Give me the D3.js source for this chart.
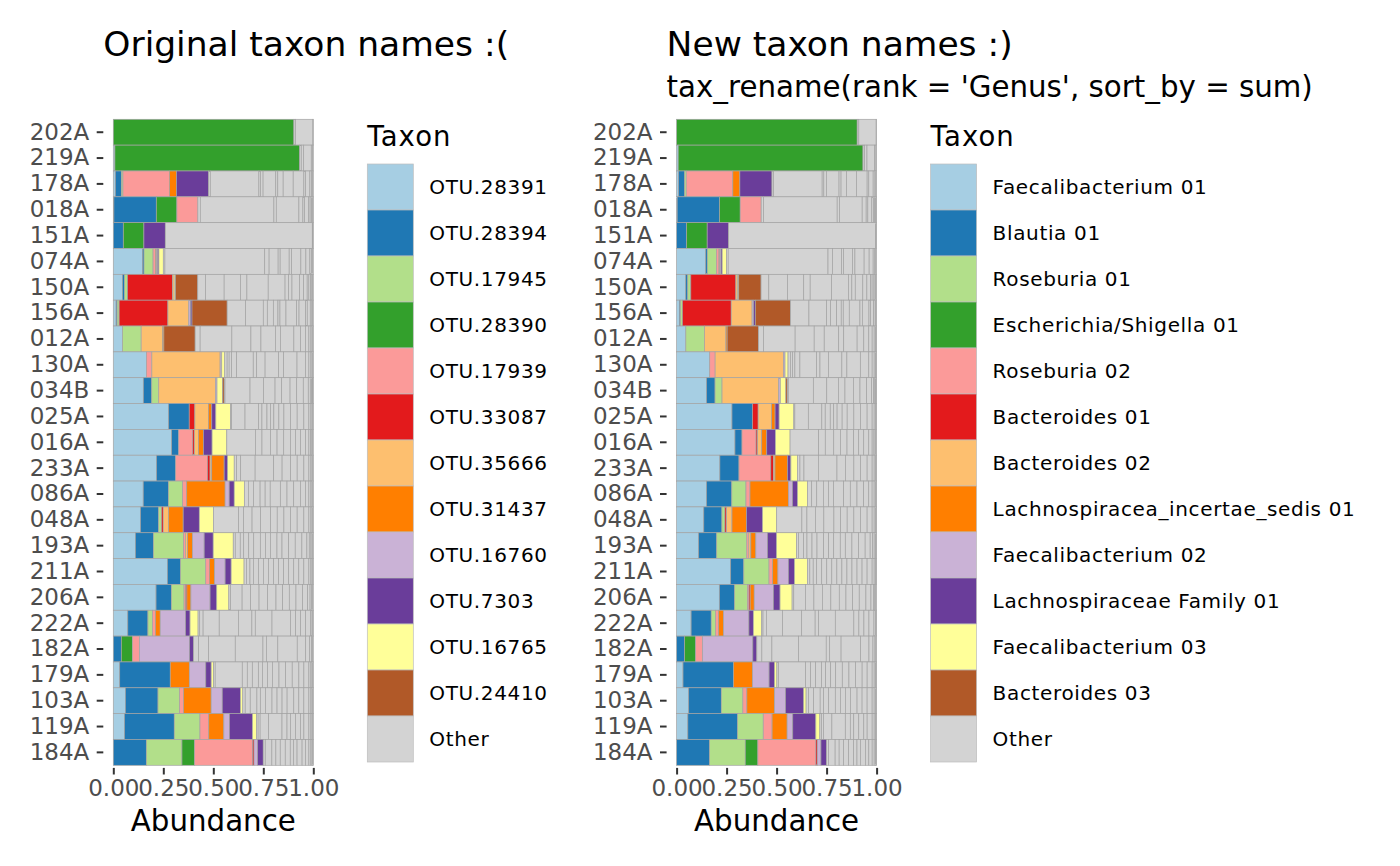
<!DOCTYPE html>
<html>
<head>
<meta charset="utf-8">
<script src="https://cdn.jsdelivr.net/npm/d3@7"></script>
<style>
  body { margin: 0; background: #ffffff; }
  svg { font-family: "DejaVu Sans", sans-serif; }
  .axis path.domain { display: none; }
  .axis line { stroke: #333333; stroke-width: 2; }
  .axis text { fill: #4d4d4d; font-size: 23px; font-family: "DejaVu Sans", sans-serif; }
</style>
</head>
<body>
<div id="chart"></div>
<script>
// Samples, top to bottom
var samples = ["202A", "219A", "178A", "018A", "151A", "074A", "150A", "156A", "012A",
  "130A", "034B", "025A", "016A", "233A", "086A", "048A", "193A", "211A", "206A",
  "222A", "182A", "179A", "103A", "119A", "184A"];

// Top 12 taxa, in stacking order
var taxaOriginal = ["OTU.28391", "OTU.28394", "OTU.17945", "OTU.28390", "OTU.17939",
  "OTU.33087", "OTU.35666", "OTU.31437", "OTU.16760", "OTU.7303", "OTU.16765", "OTU.24410"];
var taxaRenamed = ["Faecalibacterium 01", "Blautia 01", "Roseburia 01", "Escherichia/Shigella 01",
  "Roseburia 02", "Bacteroides 01", "Bacteroides 02", "Lachnospiracea_incertae_sedis 01",
  "Faecalibacterium 02", "Lachnospiraceae Family 01", "Faecalibacterium 03", "Bacteroides 03"];

// Relative abundance of the 12 taxa, one row per sample
var topAbundance = [
  [0, 0, 0, .903, 0, 0, 0, 0, 0, 0, 0, 0],
  [.008, 0, 0, .922, 0, 0, 0, 0, 0, 0, 0, 0],
  [.01, .03, .008, 0, .232, 0, 0, .035, 0, .16, 0, 0],
  [.003, .212, 0, .103, .105, 0, 0, 0, 0, 0, 0, 0],
  [0, .05, 0, .103, 0, 0, 0, 0, 0, .107, 0, 0],
  [.145, .008, .045, 0, .013, 0, 0, .004, .006, .006, .022, 0],
  [.045, .01, .015, 0, 0, .222, .008, 0, 0, 0, .006, .11],
  [.014, .005, .01, 0, 0, .243, .104, 0, .008, .008, 0, .175],
  [.046, 0, .093, 0, 0, 0, .107, .006, 0, 0, 0, .156],
  [.165, 0, 0, 0, .027, 0, .34, 0, .008, 0, .015, 0],
  [.15, .042, .035, 0, 0, 0, .283, 0, .008, 0, .028, .008],
  [.275, .102, 0, 0, 0, .028, .067, .017, 0, .02, .073, 0],
  [.29, .035, 0, 0, .07, .008, .02, .025, 0, .043, .073, 0],
  [.215, .095, 0, 0, .158, .013, .008, .062, 0, .017, .033, 0],
  [.148, .125, .07, 0, .02, 0, 0, .19, .02, .025, .05, 0],
  [.135, .09, .015, 0, 0, .008, .027, .072, 0, .08, .07, 0],
  [.11, .09, .15, 0, .01, 0, .01, .025, .058, .045, .1, 0],
  [.268, .065, .125, 0, .018, 0, 0, .026, .052, .03, .064, 0],
  [.212, .076, .063, 0, .008, .006, 0, .02, .095, .033, .06, 0],
  [.072, .1, .022, 0, .015, 0, 0, .024, .126, .022, .04, 0],
  [0, .04, 0, .055, .035, 0, 0, 0, .25, .02, 0, 0],
  [.032, .252, 0, 0, 0, 0, 0, .095, .082, .027, .012, 0],
  [.06, .162, .107, 0, .02, 0, 0, .137, .055, .09, .012, 0],
  [.056, .248, .128, 0, .044, 0, 0, .075, .028, .115, .02, 0],
  [0, .165, .178, .063, .29, .007, 0, 0, .018, .028, 0, 0]
];

// Every remaining taxon, all drawn grey ("Other"), one row per sample
var otherAbundance = [
  [.008, .087, .002],
  [.008, .012, .038, .007, .003],
  [.008, .242, .008, .013, .063, .01, .027, .05, .053, .008, .022, .009, .005, .003],
  [.012, .368, .012, .113, .02, .008, .02, .008, .006, .004, .004, .002],
  [.735, .003, .002],
  [.008, .497, .022, .045, .01, .045, .012, .046, .025, .02, .008, .005, .004],
  [.038, .092, .08, .032, .105, .083, .017, .017, .037, .02, .018, .008, .009, .006, .004, .003],
  [.092, .088, .02, .03, .023, .01, .03, .053, .012, .033, .008, .015, .008, .004, .003],
  [.025, .158, .095, .05, .072, .025, .067, .033, .025, .017, .01, .006, .004, .002],
  [.012, .01, .012, .025, .083, .017, .042, .067, .025, .067, .042, .017, .01, .006, .004, .002],
  [.004, .125, .067, .058, .033, .042, .033, .033, .025, .01, .006, .004, .003, .002],
  [.005, .067, .067, .017, .025, .017, .017, .025, .025, .033, .033, .033, .025, .01, .006, .004, .002],
  [.142, .033, .042, .033, .033, .033, .025, .025, .025, .017, .009, .006, .004, .003],
  [.012, .02, .072, .092, .042, .042, .033, .033, .025, .01, .006, .004, .002],
  [.02, .025, .033, .025, .025, .05, .033, .033, .033, .025, .017, .01, .006, .004, .002],
  [.125, .025, .042, .042, .05, .033, .033, .033, .033, .033, .025, .01, .006, .004, .002],
  [.01, .025, .017, .025, .025, .033, .025, .025, .033, .025, .033, .033, .033, .025, .012, .008, .006, .004, .002],
  [.012, .017, .017, .025, .025, .025, .025, .025, .025, .025, .025, .025, .025, .025, .01, .006, .004, .002],
  [.008, .058, .042, .042, .042, .042, .033, .033, .033, .033, .025, .012, .007, .005, .004],
  [.008, .017, .08, .095, .067, .017, .083, .092, .025, .025, .025, .025, .007, .004, .002],
  [.025, .05, .133, .138, .017, .057, .097, .042, .02, .01, .005, .003],
  [.008, .135, .025, .025, .03, .02, .025, .025, .033, .033, .033, .033, .025, .025, .01, .006, .004, .002],
  [.012, .025, .033, .017, .025, .033, .025, .025, .025, .033, .025, .025, .025, .01, .006, .004, .002],
  [.008, .01, .042, .067, .025, .017, .025, .025, .017, .025, .01, .006, .004, .002],
  [.01, .033, .02, .022, .025, .025, .017, .017, .025, .017, .017, .01, .006, .004, .002]
];

var xTicks = [0, 0.25, 0.5, 0.75, 1];

// Paired palette for the 12 taxa, light grey for the rest
var taxonColours = d3.schemePaired;
var otherColour = "#d3d3d3";
var outlineColour = "#a3a3a3";

var svg = d3.select("#chart").append("svg")
    .attr("width", 1400)
    .attr("height", 866);

/**
* One composition barplot (panel + axes + legend)
* left  - pixel position of abundance 0
* names - taxon names shown in the legend
*/
var CompBarplot = function(svg, left, names, title, subtitle) {
  this.g = svg.append("g");
  this.names = names;

  // x: abundance 0..1 over 200px, the panel adds 5% each side
  this.x = d3.scaleLinear().domain([0, 1]).range([left, left + 200]);
  this.panelLeft = left - 10;
  this.panelBottom = 767.9;

  // y: one band per sample, bars touch each other
  this.y = d3.scaleBand().domain(samples).range([119.3, 765.3]).padding(0);

  this.g.append("text")
      .attr("x", this.panelLeft)
      .attr("y", 55.7)
      .attr("font-size", 34.5)
      .attr("fill", "#000")
      .text(title);

  if (subtitle) {
    this.g.append("text")
        .attr("x", this.panelLeft)
        .attr("y", 96.7)
        .attr("font-size", 29.3)
        .attr("fill", "#000")
        .text(subtitle);
  }

  this.drawBars();
  this.drawAxes();
  this.drawLegend(left + 254);
};

CompBarplot.prototype.drawBars = function() {
  var x = this.x, y = this.y;

  var rows = samples.map(function(s, i) {
    var segs = [];
    topAbundance[i].forEach(function(v, j) {
      if (v > 0) segs.push({value: v, colour: taxonColours[j]});
    });
    otherAbundance[i].forEach(function(v) {
      segs.push({value: v, colour: otherColour});
    });
    // each sample is shown as proportions, so normalise to the row total
    var total = d3.sum(segs, function(d) { return d.value; });
    var ends = d3.cumsum(segs, function(d) { return d.value; });
    segs.forEach(function(d, k) {
      d.x1 = ends[k] / total;
      d.x0 = (ends[k] - d.value) / total;
      d.sample = s;
    });
    return segs;
  });

  this.g.append("g").selectAll("g")
    .data(rows)
    .enter().append("g")
    .selectAll("rect")
    .data(function(d) { return d; })
    .enter().append("rect")
      .attr("x", function(d) { return x(d.x0); })
      .attr("y", function(d) { return y(d.sample); })
      .attr("width", function(d) { return x(d.x1) - x(d.x0); })
      .attr("height", y.bandwidth())
      .attr("fill", function(d) { return d.colour; })
      .attr("stroke", outlineColour)
      .attr("stroke-width", 0.7);
};

CompBarplot.prototype.drawAxes = function() {
  var yAxis = d3.axisLeft(this.y).tickSize(6.6).tickPadding(7.4);
  this.g.append("g")
      .attr("class", "axis y")
      .attr("transform", "translate(" + this.panelLeft + ",0)")
      .call(yAxis);

  var xAxis = d3.axisBottom(this.x)
      .tickValues(xTicks)
      .tickFormat(d3.format(".2f"))
      .tickSize(6.6)
      .tickPadding(5);
  this.g.append("g")
      .attr("class", "axis x")
      .attr("transform", "translate(0," + this.panelBottom + ")")
      .call(xAxis);

  this.g.append("text")
      .attr("x", (this.x(0) + this.x(1)) / 2)
      .attr("y", 831)
      .attr("text-anchor", "middle")
      .attr("font-size", 29.3)
      .attr("fill", "#000")
      .text("Abundance");
};

CompBarplot.prototype.drawLegend = function(lx) {
  var keys = this.names.concat(["Other"]);
  var colours = taxonColours.slice(0, 12).concat([otherColour]);
  var keySize = 46;

  var lg = this.g.append("g").attr("transform", "translate(" + lx + ",0)");

  lg.append("text")
      .attr("x", 0)
      .attr("y", 145.5)
      .attr("font-size", 27.5)
      .attr("letter-spacing", 1.1)
      .attr("fill", "#000")
      .text("Taxon");

  var item = lg.selectAll(".key")
    .data(keys)
    .enter().append("g")
      .attr("class", "key")
      .attr("transform", function(d, i) { return "translate(0," + (164 + i * keySize) + ")"; });

  item.append("rect")
      .attr("width", keySize)
      .attr("height", keySize)
      .attr("fill", function(d, i) { return colours[i]; })
      .attr("stroke", "#bdbdbd")
      .attr("stroke-width", 0.7);

  item.append("text")
      .attr("x", 62)
      .attr("y", keySize / 2)
      .attr("dy", "0.36em")
      .attr("font-size", 20)
      .attr("letter-spacing", 0.65)
      .attr("fill", "#000")
      .text(function(d) { return d; });
};

new CompBarplot(svg, 113.3, taxaOriginal, "Original taxon names :(");
new CompBarplot(svg, 676.6, taxaRenamed, "New taxon names :)", "tax_rename(rank = 'Genus', sort_by = sum)");
</script>
</body>
</html>
